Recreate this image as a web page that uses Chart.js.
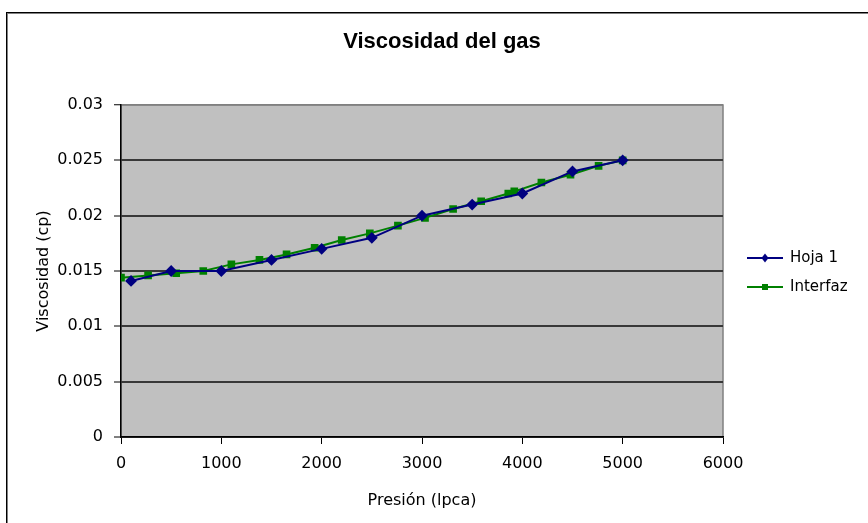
<!DOCTYPE html>
<html>
<head>
<meta charset="utf-8">
<title>Viscosidad del gas</title>
<script src="https://cdn.jsdelivr.net/npm/chart.js@4/dist/chart.umd.min.js"></script>
<style>
  html, body { margin: 0; padding: 0; background: #ffffff; }
  canvas { display: block; }
</style>
</head>
<body>
<canvas id="myChart" width="868" height="523"></canvas>
<script>
// Hoja 1 series (presion in lpca, viscosidad in cp)
const hojaX = [100, 500, 1000, 1500, 2000, 2500, 3000, 3500, 4000, 4500, 5000];
const hojaY = [0.0141, 0.015, 0.015, 0.016, 0.017, 0.018, 0.020, 0.021, 0.022, 0.024, 0.025];

// Interfaz series
const interfazX = [0, 270, 550, 820, 1100, 1380, 1650, 1930, 2200, 2480, 2760, 3030, 3310, 3590, 3860, 3920, 4190, 4480, 4760, 5000];
const interfazY = [0.0144, 0.0146, 0.0148, 0.0150, 0.0156, 0.0160, 0.0165, 0.0171, 0.0178, 0.0184, 0.0191, 0.0198, 0.0206, 0.0213, 0.0220, 0.0222, 0.0230, 0.0237, 0.0245, 0.0250];

const xTickLabels = ['0', '1000', '2000', '3000', '4000', '5000', '6000'];
const yTickLabels = ['0', '0.005', '0.01', '0.015', '0.02', '0.025', '0.03'];

function toPoints(xs, ys) {
  return xs.map((x, i) => ({ x: x, y: ys[i] }));
}

// Grey plot area, outer frame.
const backgroundPlugin = {
  id: 'background',
  beforeDraw(chart) {
    const ctx = chart.ctx;
    const a = chart.chartArea;
    ctx.save();
    ctx.fillStyle = '#ffffff';
    ctx.fillRect(0, 0, chart.width, chart.height);
    ctx.strokeStyle = '#000000';
    ctx.lineWidth = 1;
    ctx.strokeRect(6.5, 12.5, chart.width + 20, chart.height + 20);
    ctx.strokeStyle = '#808080';
    ctx.strokeRect(7.5, 13.5, chart.width + 20, chart.height + 20);
    ctx.fillStyle = '#c0c0c0';
    ctx.fillRect(a.left, a.top, a.right - a.left, a.bottom - a.top);
    ctx.strokeStyle = '#808080';
    ctx.lineWidth = 1.5;
    ctx.strokeRect(a.left, a.top, a.right - a.left, a.bottom - a.top);
    ctx.restore();
  },
};

// Legend with line + marker, drawn in the space kept free by the dummy right axis.
const legendPlugin = {
  id: 'lineLegend',
  afterDraw(chart) {
    const ctx = chart.ctx;
    const a = chart.chartArea;
    const mid = (a.top + a.bottom) / 2 + 1.5;
    ctx.save();
    chart.data.datasets.forEach((ds, i) => {
      const y = mid + (i - 0.5) * 29;
      const x0 = a.right + 24;
      const x1 = a.right + 60;
      const xm = (x0 + x1) / 2;
      ctx.strokeStyle = ds.borderColor;
      ctx.lineWidth = 2;
      ctx.beginPath();
      ctx.moveTo(x0, y);
      ctx.lineTo(x1, y);
      ctx.stroke();
      ctx.fillStyle = ds.pointBackgroundColor;
      ctx.beginPath();
      if (ds.pointStyle === 'rectRot') {
        ctx.moveTo(xm - 3.5, y);
        ctx.lineTo(xm, y - 4.5);
        ctx.lineTo(xm + 3.5, y);
        ctx.lineTo(xm, y + 4.5);
        ctx.closePath();
      } else {
        ctx.rect(xm - 3, y - 3, 6, 6);
      }
      ctx.fill();
      ctx.fillStyle = '#000000';
      ctx.font = '15px "DejaVu Sans"';
      ctx.textBaseline = 'middle';
      ctx.textAlign = 'left';
      ctx.fillText(ds.label, a.right + 67, y);
    });
    ctx.restore();
  },
};

function generateChart() {
  const data = {
    datasets: [
      {
        label: 'Hoja 1',
        data: toPoints(hojaX, hojaY),
        borderColor: '#000080',
        backgroundColor: '#000080',
        pointBackgroundColor: '#000080',
        pointBorderColor: '#000080',
        pointStyle: 'rectRot',
        pointRadius: 4.5,
        borderWidth: 2,
        tension: 0,
      },
      {
        label: 'Interfaz',
        data: toPoints(interfazX, interfazY),
        borderColor: '#008000',
        backgroundColor: '#008000',
        pointBackgroundColor: '#008000',
        pointBorderColor: '#008000',
        pointStyle: 'rect',
        pointRadius: 4,
        borderWidth: 2,
        tension: 0,
      },
    ],
  };

  const config = {
    type: 'line',
    data: data,
    plugins: [backgroundPlugin, legendPlugin],
    options: {
      responsive: false,
      animation: false,
      devicePixelRatio: 1,
      layout: { padding: { left: 16, right: 0, top: 0, bottom: 0 } },
      plugins: {
        legend: { display: false },
        tooltip: { enabled: false },
        title: {
          display: true,
          text: 'Viscosidad del gas',
          color: '#000000',
          font: { family: '"Liberation Sans", Arial, sans-serif', size: 22, weight: 'bold' },
          padding: { top: 29, bottom: 49.6 },
        },
      },
      scales: {
        x: {
          type: 'linear',
          min: 0,
          max: 6000,
          afterFit: (s) => { s.height = 86; },
          ticks: {
            stepSize: 1000,
            padding: 10,
            color: '#000000',
            font: { family: '"DejaVu Sans"', size: 16 },
            callback: (v, i) => xTickLabels[i],
          },
          grid: {
            drawOnChartArea: false,
            tickLength: 7,
            tickColor: '#000000',
            tickWidth: 1,
          },
          border: { display: true, color: '#000000', width: 1.5 },
          title: {
            display: true,
            text: 'Presión (lpca)',
            color: '#000000',
            font: { family: '"DejaVu Sans"', size: 16 },
            padding: { top: 0, bottom: 13 },
          },
        },
        y: {
          position: 'left',
          min: 0,
          max: 0.03,
          afterFit: (s) => { s.width = 105; },
          ticks: {
            stepSize: 0.005,
            padding: 11,
            color: '#000000',
            font: { family: '"DejaVu Sans"', size: 16 },
            callback: (v, i) => yTickLabels[i],
          },
          grid: {
            color: (c) => (c.index === yTickLabels.length - 1 ? '#808080' : '#383838'),
            lineWidth: (c) => (c.index === yTickLabels.length - 1 ? 1.5 : 2),
            tickLength: 7,
            tickColor: '#000000',
            tickWidth: 1,
          },
          border: { display: true, color: '#000000', width: 1.5 },
          title: {
            display: true,
            text: 'Viscosidad (cp)',
            color: '#000000',
            font: { family: '"DejaVu Sans"', size: 16 },
            padding: { top: 18, bottom: 0 },
          },
        },
        // empty axis that keeps room for the legend on the right
        legendSpace: {
          type: 'linear',
          position: 'right',
          display: true,
          afterFit: (s) => { s.width = 145; },
          ticks: { display: false },
          grid: { display: false },
          border: { display: false },
        },
      },
    },
  };

  return new Chart(document.getElementById('myChart'), config);
}

generateChart();
</script>
</body>
</html>
